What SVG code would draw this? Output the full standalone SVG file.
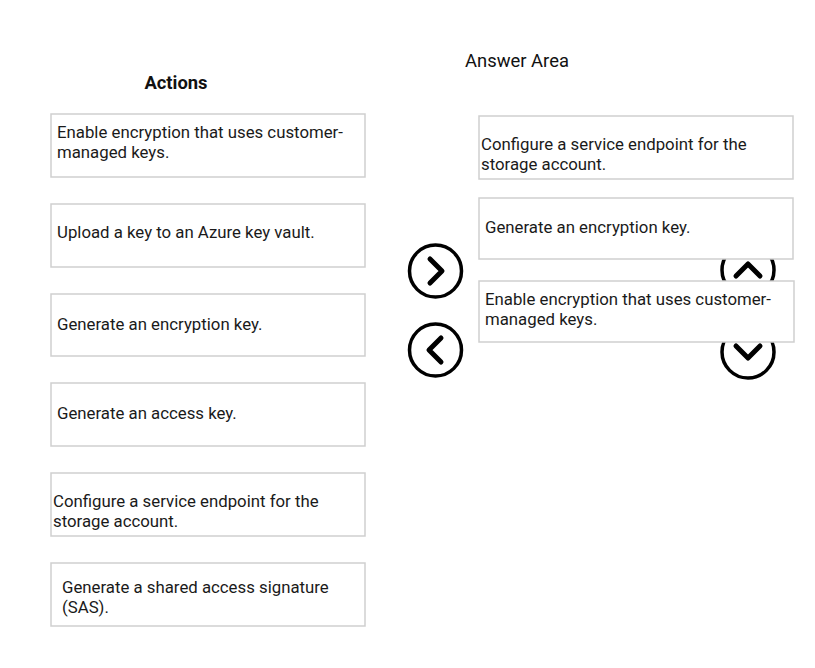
<svg xmlns="http://www.w3.org/2000/svg" width="815" height="668" viewBox="0 0 815 668">
<style>
.box{fill:#fff;stroke:#cfcfcf;stroke-width:1.5}
.t{font-family:Roboto,"Liberation Sans",sans-serif;font-size:16.8px;fill:#1a1a1a}
.h{font-family:Roboto,"Liberation Sans",sans-serif;font-size:18.4px;fill:#111}
.btn{fill:#fff;stroke:#000;stroke-width:3.5}
.chev{fill:none;stroke:#000;stroke-width:5;stroke-linecap:round;stroke-linejoin:round}
</style>
<rect width="815" height="668" fill="#fff"/>
<text class="h" x="176" y="89" text-anchor="middle" font-weight="bold">Actions</text>
<text class="h" x="517" y="67" text-anchor="middle">Answer Area</text>

<g id="btn-right"><circle class="btn" cx="435.5" cy="271" r="26"/><path class="chev" d="M430 259 L442 271 L430 283"/></g>
<g id="btn-left"><circle class="btn" cx="435.5" cy="350" r="26"/><path class="chev" d="M441 338 L429 350 L441 362"/></g>
<g id="btn-up"><circle class="btn" cx="748" cy="270" r="26"/><path class="chev" d="M736 276 L748 264 L760 276"/></g>
<g id="btn-down"><circle class="btn" cx="748" cy="352" r="26"/><path class="chev" d="M736 346 L748 358 L760 346"/></g>

<g id="action1"><rect class="box" x="51" y="114" width="314" height="63"/><text class="t" x="57" y="138">Enable encryption that uses customer-</text><text class="t" x="57" y="158">managed keys.</text></g>
<g id="action2"><rect class="box" x="51" y="204" width="314" height="63"/><text class="t" x="57" y="238">Upload a key to an Azure key vault.</text></g>
<g id="action3"><rect class="box" x="51" y="294" width="314" height="62"/><text class="t" x="57" y="330">Generate an encryption key.</text></g>
<g id="action4"><rect class="box" x="51" y="383" width="314" height="63"/><text class="t" x="57" y="419">Generate an access key.</text></g>
<g id="action5"><rect class="box" x="51" y="473" width="314" height="63"/><text class="t" x="53" y="507">Configure a service endpoint for the</text><text class="t" x="53" y="527">storage account.</text></g>
<g id="action6"><rect class="box" x="51" y="563" width="314" height="63"/><text class="t" x="62" y="593">Generate a shared access signature</text><text class="t" x="62" y="613">(SAS).</text></g>

<g id="answer1"><rect class="box" x="479" y="116" width="314" height="63"/><text class="t" x="481" y="150">Configure a service endpoint for the</text><text class="t" x="481" y="170">storage account.</text></g>
<g id="answer2"><rect class="box" x="479" y="198" width="314" height="61"/><text class="t" x="485" y="233">Generate an encryption key.</text></g>
<g id="answer3"><rect class="box" x="479" y="281" width="315" height="61"/><text class="t" x="485" y="305">Enable encryption that uses customer-</text><text class="t" x="485" y="325">managed keys.</text></g>
<g id="connectors"/>
</svg>
